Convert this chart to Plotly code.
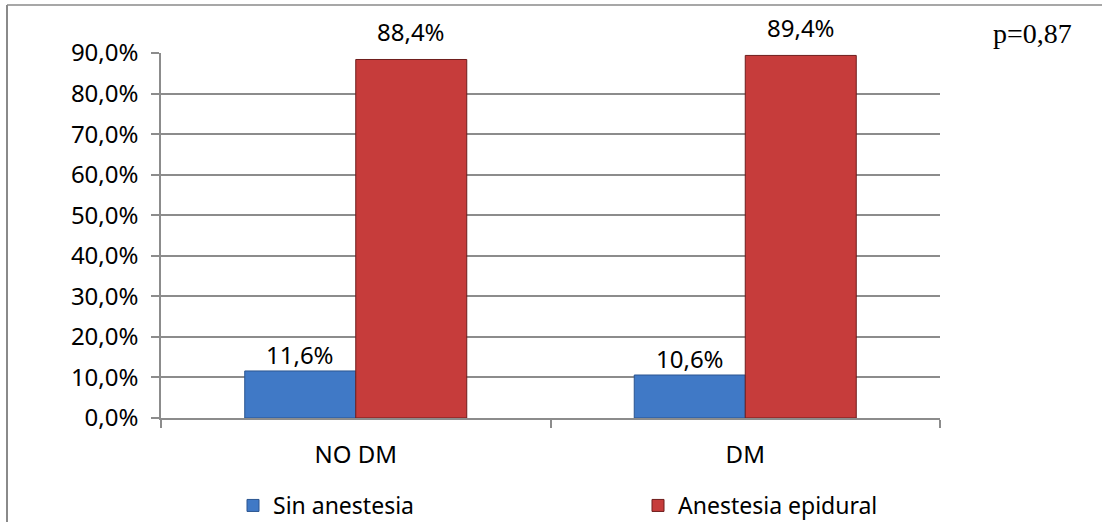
import plotly.graph_objects as go

# Data
categories = ["NO DM", "DM"]
sin_anestesia = [0.116, 0.106]
anestesia_epidural = [0.884, 0.894]
series_names = ["Sin anestesia", "Anestesia epidural"]
y_ticks = [0.0, 0.1, 0.2, 0.3, 0.4, 0.5, 0.6, 0.7, 0.8, 0.9]
p_value_text = "p=0,87"

W, H = 1102, 522
L, R, T, B = 161, 162, 53, 104
plot_w = W - L - R
plot_h = H - T - B

BAR_GAP = 0.43
half_bar = (1 - BAR_GAP) / 4  # centre offset of each bar within its group

FONT = "Noto Sans"
GRID = "#8c8c8c"

blue = "#4079c6"
blue_line = "#2b5590"
red = "#c63c3b"
red_line = "#6e1d1c"


def px_x(px):
    return (px - L) / plot_w


def px_y(py):
    return (H - B - py) / plot_h


fig = go.Figure()
fig.add_trace(go.Bar(
    x=categories, y=sin_anestesia, name=series_names[0],
    marker=dict(color=blue, line=dict(color=blue_line, width=1)),
    legend="legend",
))
fig.add_trace(go.Bar(
    x=categories, y=anestesia_epidural, name=series_names[1],
    marker=dict(color=red, line=dict(color=red_line, width=1)),
    legend="legend2",
))

# Value labels above the bars
def pct(v):
    return f"{v * 100:.1f}".replace(".", ",") + "%"

for i, v in enumerate(sin_anestesia):
    fig.add_annotation(x=i - half_bar, y=v, text=pct(v), showarrow=False,
                       yanchor="bottom", yshift=-2,
                       font=dict(family=FONT, size=24, color="#000"))
for i, v in enumerate(anestesia_epidural):
    fig.add_annotation(x=i + half_bar, y=v, text=pct(v), showarrow=False,
                       yanchor="bottom", yshift=9,
                       font=dict(family=FONT, size=24, color="#000"))

# p-value note
fig.add_annotation(xref="paper", yref="paper",
                   x=px_x(1032), y=px_y(33),
                   text=p_value_text, showarrow=False,
                   xanchor="center", yanchor="middle",
                   font=dict(family="Liberation Serif", size=28, color="#000"))

# Outer frame (left and top edges)
fig.add_shape(type="line", xref="paper", yref="paper",
              x0=px_x(7), x1=px_x(7), y0=px_y(5), y1=px_y(530),
              line=dict(color="#8a8a8a", width=2))
fig.add_shape(type="line", xref="paper", yref="paper",
              x0=px_x(7), x1=px_x(1110), y0=px_y(5), y1=px_y(5),
              line=dict(color="#8a8a8a", width=1.5))

legend_style = dict(orientation="h", xanchor="left",
                    y=px_y(527), yanchor="bottom",
                    font=dict(family=FONT, size=23, color="#000"),
                    bgcolor="rgba(0,0,0,0)")

fig.update_layout(
    width=W, height=H,
    margin=dict(l=L, r=R, t=T, b=B, autoexpand=False),
    paper_bgcolor="white", plot_bgcolor="white",
    barmode="group", bargap=BAR_GAP, bargroupgap=0,
    font=dict(family=FONT, size=24, color="#000"),
    legend=dict(x=px_x(233), **legend_style),
    legend2=dict(x=px_x(638), **legend_style),
    showlegend=True,
    separators=",.",
)

fig.update_xaxes(
    type="category", range=[-0.5, 1.5],
    showline=True, linecolor=GRID, linewidth=1.5,
    ticks="outside", tickson="boundaries", ticklen=8, tickcolor=GRID, tickwidth=1.5,
    ticklabelstandoff=14,
    showgrid=False,
    tickfont=dict(family=FONT, size=24, color="#000"),
)
fig.update_yaxes(
    range=[0, 0.9], tickvals=y_ticks, tickformat=".1%",
    showline=True, linecolor=GRID, linewidth=1.5,
    ticks="outside", ticklen=8, tickcolor=GRID, tickwidth=1.5,
    ticklabelstandoff=8,
    showgrid=True, gridcolor=GRID, gridwidth=1.5,
    zeroline=False,
    tickfont=dict(family=FONT, size=24, color="#000"),
)

fig.write_html("out.html")
